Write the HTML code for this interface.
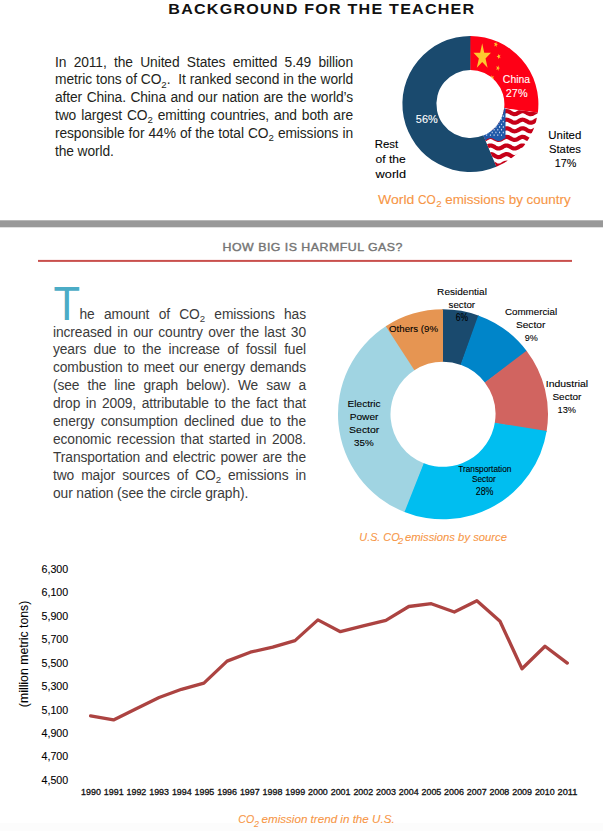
<!DOCTYPE html>
<html><head><meta charset="utf-8"><style>
html,body{margin:0;padding:0;background:#fff;}
body{width:603px;height:831px;position:relative;overflow:hidden;font-family:"Liberation Sans",sans-serif;}
svg{position:absolute;left:0;top:0;}
.ln{position:absolute;white-space:nowrap;text-align:justify;line-height:0;height:0;letter-spacing:-0.1px;}
.ln span.b{display:inline-block;}
sub{font-size:0.7em;vertical-align:baseline;position:relative;top:0.36em;line-height:0;}
</style></head><body>
<svg width="603" height="831" viewBox="0 0 603 831" font-family="Liberation Sans, sans-serif">
<defs>
<clipPath id="cpUS"><path d="M537.86,112.52A68,68 0 0 1 496.42,166.82L483.41,135.41A34,34 0 0 0 504.13,108.26Z"/></clipPath>
<clipPath id="cpCN"><path d="M470.40,36.00A68,68 0 0 1 537.86,112.52L504.13,108.26A34,34 0 0 0 470.40,70.00Z"/></clipPath>
</defs>
<rect x="0" y="823" width="603" height="8" fill="#fcfcfc"/>
<text transform="translate(168.3,14) scale(1.15,1)" x="0" y="0" font-size="14" font-weight="bold" fill="#111" textLength="266" lengthAdjust="spacing">BACKGROUND FOR THE TEACHER</text>
<path d="M496.97,166.59A68,68 0 1 1 470.99,36.00L470.70,70.00A34,34 0 1 0 483.68,135.30Z" fill="#1a4a6e"/>
<path d="M470.40,36.00A68,68 0 0 1 537.79,113.11L504.09,108.56A34,34 0 0 0 470.40,70.00Z" fill="#fe0016"/>
<g clip-path="url(#cpCN)" fill="#fdc82f"><path transform="translate(482.2,56.8) scale(0.68,1)" d="M0.00,-13.50 L3.03,-4.17 L12.84,-4.17 L4.90,1.59 L7.94,10.92 L0.00,5.16 L-7.94,10.92 L-4.90,1.59 L-12.84,-4.17 L-3.03,-4.17Z"/><path transform="translate(495.8,44.4) scale(0.75,1)" d="M-2.22,2.02 L-1.14,0.13 L-2.61,-1.48 L-0.47,-1.04 L0.61,-2.94 L0.85,-0.77 L2.98,-0.33 L1.00,0.57 L1.24,2.73 L-0.23,1.12Z"/><path transform="translate(498.8,56.5) scale(0.75,1)" d="M-3.00,0.05 L-0.94,-0.66 L-0.98,-2.84 L0.33,-1.10 L2.39,-1.81 L1.15,-0.02 L2.46,1.72 L0.37,1.08 L-0.88,2.87 L-0.91,0.69Z"/><path transform="translate(497.9,68.1) scale(0.75,1)" d="M-2.43,-1.75 L-0.36,-1.09 L0.91,-2.86 L0.92,-0.68 L3.00,-0.01 L0.93,0.67 L0.94,2.85 L-0.35,1.09 L-2.42,1.77 L-1.15,0.01Z"/><path transform="translate(492.2,77.8) scale(0.75,1)" d="M-1.29,-2.71 L0.21,-1.13 L2.18,-2.06 L1.14,-0.15 L2.64,1.43 L0.49,1.03 L-0.55,2.95 L-0.83,0.79 L-2.97,0.39 L-1.01,-0.55Z"/></g>
<g clip-path="url(#cpUS)">
<rect x="400" y="90" width="160" height="90" fill="#fff"/>
<polyline points="440.0,86.02 440.5,85.78 441.0,85.59 441.5,85.44 442.0,85.34 442.5,85.30 443.0,85.32 443.5,85.39 444.0,85.52 444.5,85.70 445.0,85.92 445.5,86.17 446.0,86.45 446.5,86.74 447.0,87.03 447.5,87.32 448.0,87.58 448.5,87.82 449.0,88.01 449.5,88.16 450.0,88.26 450.5,88.30 451.0,88.28 451.5,88.21 452.0,88.08 452.5,87.90 453.0,87.68 453.5,87.43 454.0,87.15 454.5,86.86 455.0,86.57 455.5,86.28 456.0,86.02 456.5,85.78 457.0,85.59 457.5,85.44 458.0,85.34 458.5,85.30 459.0,85.32 459.5,85.39 460.0,85.52 460.5,85.70 461.0,85.92 461.5,86.17 462.0,86.45 462.5,86.74 463.0,87.03 463.5,87.32 464.0,87.58 464.5,87.82 465.0,88.01 465.5,88.16 466.0,88.26 466.5,88.30 467.0,88.28 467.5,88.21 468.0,88.08 468.5,87.90 469.0,87.68 469.5,87.43 470.0,87.15 470.5,86.86 471.0,86.57 471.5,86.28 472.0,86.02 472.5,85.78 473.0,85.59 473.5,85.44 474.0,85.34 474.5,85.30 475.0,85.32 475.5,85.39 476.0,85.52 476.5,85.70 477.0,85.92 477.5,86.17 478.0,86.45 478.5,86.74 479.0,87.03 479.5,87.32 480.0,87.58 480.5,87.82 481.0,88.01 481.5,88.16 482.0,88.26 482.5,88.30 483.0,88.28 483.5,88.21 484.0,88.08 484.5,87.90 485.0,87.68 485.5,87.43 486.0,87.15 486.5,86.86 487.0,86.57 487.5,86.28 488.0,86.02 488.5,85.78 489.0,85.59 489.5,85.44 490.0,85.34 490.5,85.30 491.0,85.32 491.5,85.39 492.0,85.52 492.5,85.70 493.0,85.92 493.5,86.17 494.0,86.45 494.5,86.74 495.0,87.03 495.5,87.32 496.0,87.58 496.5,87.82 497.0,88.01 497.5,88.16 498.0,88.26 498.5,88.30 499.0,88.28 499.5,88.21 500.0,88.08 500.5,87.90 501.0,87.68 501.5,87.43 502.0,87.15 502.5,86.86 503.0,86.57 503.5,86.28 504.0,86.02 504.5,85.78 505.0,85.59 505.5,85.44 506.0,85.34 506.5,85.30 507.0,85.32 507.5,85.39 508.0,85.52 508.5,85.70 509.0,85.92 509.5,86.17 510.0,86.45 510.5,86.74 511.0,87.03 511.5,87.32 512.0,87.58 512.5,87.82 513.0,88.01 513.5,88.16 514.0,88.26 514.5,88.30 515.0,88.28 515.5,88.21 516.0,88.08 516.5,87.90 517.0,87.68 517.5,87.43 518.0,87.15 518.5,86.86 519.0,86.57 519.5,86.28 520.0,86.02 520.5,85.78 521.0,85.59 521.5,85.44 522.0,85.34 522.5,85.30 523.0,85.32 523.5,85.39 524.0,85.52 524.5,85.70 525.0,85.92 525.5,86.17 526.0,86.45 526.5,86.74 527.0,87.03 527.5,87.32 528.0,87.58 528.5,87.82 529.0,88.01 529.5,88.16 530.0,88.26 530.5,88.30 531.0,88.28 531.5,88.21 532.0,88.08 532.5,87.90 533.0,87.68 533.5,87.43 534.0,87.15 534.5,86.86 535.0,86.57 535.5,86.28 536.0,86.02 536.5,85.78 537.0,85.59 537.5,85.44 538.0,85.34 538.5,85.30 539.0,85.32 539.5,85.39 540.0,85.52 540.5,85.70 541.0,85.92 541.5,86.17 542.0,86.45 542.5,86.74 543.0,87.03 543.5,87.32 544.0,87.58 544.5,87.82 545.0,88.01 545.5,88.16 546.0,88.26 546.5,88.30 547.0,88.28 547.5,88.21 548.0,88.08 548.5,87.90 549.0,87.68 549.5,87.43 550.0,87.15 550.5,86.86 551.0,86.57 551.5,86.28 552.0,86.02 552.5,85.78 553.0,85.59 553.5,85.44 554.0,85.34 554.5,85.30 555.0,85.32 555.5,85.39 556.0,85.52 556.5,85.70 557.0,85.92 557.5,86.17 558.0,86.45 558.5,86.74 559.0,87.03 559.5,87.32 560.0,87.58" stroke="#c60018" stroke-width="4.2" fill="none"/><polyline points="440.0,94.62 440.5,94.38 441.0,94.19 441.5,94.04 442.0,93.94 442.5,93.90 443.0,93.92 443.5,93.99 444.0,94.12 444.5,94.30 445.0,94.52 445.5,94.77 446.0,95.05 446.5,95.34 447.0,95.63 447.5,95.92 448.0,96.18 448.5,96.42 449.0,96.61 449.5,96.76 450.0,96.86 450.5,96.90 451.0,96.88 451.5,96.81 452.0,96.68 452.5,96.50 453.0,96.28 453.5,96.03 454.0,95.75 454.5,95.46 455.0,95.17 455.5,94.88 456.0,94.62 456.5,94.38 457.0,94.19 457.5,94.04 458.0,93.94 458.5,93.90 459.0,93.92 459.5,93.99 460.0,94.12 460.5,94.30 461.0,94.52 461.5,94.77 462.0,95.05 462.5,95.34 463.0,95.63 463.5,95.92 464.0,96.18 464.5,96.42 465.0,96.61 465.5,96.76 466.0,96.86 466.5,96.90 467.0,96.88 467.5,96.81 468.0,96.68 468.5,96.50 469.0,96.28 469.5,96.03 470.0,95.75 470.5,95.46 471.0,95.17 471.5,94.88 472.0,94.62 472.5,94.38 473.0,94.19 473.5,94.04 474.0,93.94 474.5,93.90 475.0,93.92 475.5,93.99 476.0,94.12 476.5,94.30 477.0,94.52 477.5,94.77 478.0,95.05 478.5,95.34 479.0,95.63 479.5,95.92 480.0,96.18 480.5,96.42 481.0,96.61 481.5,96.76 482.0,96.86 482.5,96.90 483.0,96.88 483.5,96.81 484.0,96.68 484.5,96.50 485.0,96.28 485.5,96.03 486.0,95.75 486.5,95.46 487.0,95.17 487.5,94.88 488.0,94.62 488.5,94.38 489.0,94.19 489.5,94.04 490.0,93.94 490.5,93.90 491.0,93.92 491.5,93.99 492.0,94.12 492.5,94.30 493.0,94.52 493.5,94.77 494.0,95.05 494.5,95.34 495.0,95.63 495.5,95.92 496.0,96.18 496.5,96.42 497.0,96.61 497.5,96.76 498.0,96.86 498.5,96.90 499.0,96.88 499.5,96.81 500.0,96.68 500.5,96.50 501.0,96.28 501.5,96.03 502.0,95.75 502.5,95.46 503.0,95.17 503.5,94.88 504.0,94.62 504.5,94.38 505.0,94.19 505.5,94.04 506.0,93.94 506.5,93.90 507.0,93.92 507.5,93.99 508.0,94.12 508.5,94.30 509.0,94.52 509.5,94.77 510.0,95.05 510.5,95.34 511.0,95.63 511.5,95.92 512.0,96.18 512.5,96.42 513.0,96.61 513.5,96.76 514.0,96.86 514.5,96.90 515.0,96.88 515.5,96.81 516.0,96.68 516.5,96.50 517.0,96.28 517.5,96.03 518.0,95.75 518.5,95.46 519.0,95.17 519.5,94.88 520.0,94.62 520.5,94.38 521.0,94.19 521.5,94.04 522.0,93.94 522.5,93.90 523.0,93.92 523.5,93.99 524.0,94.12 524.5,94.30 525.0,94.52 525.5,94.77 526.0,95.05 526.5,95.34 527.0,95.63 527.5,95.92 528.0,96.18 528.5,96.42 529.0,96.61 529.5,96.76 530.0,96.86 530.5,96.90 531.0,96.88 531.5,96.81 532.0,96.68 532.5,96.50 533.0,96.28 533.5,96.03 534.0,95.75 534.5,95.46 535.0,95.17 535.5,94.88 536.0,94.62 536.5,94.38 537.0,94.19 537.5,94.04 538.0,93.94 538.5,93.90 539.0,93.92 539.5,93.99 540.0,94.12 540.5,94.30 541.0,94.52 541.5,94.77 542.0,95.05 542.5,95.34 543.0,95.63 543.5,95.92 544.0,96.18 544.5,96.42 545.0,96.61 545.5,96.76 546.0,96.86 546.5,96.90 547.0,96.88 547.5,96.81 548.0,96.68 548.5,96.50 549.0,96.28 549.5,96.03 550.0,95.75 550.5,95.46 551.0,95.17 551.5,94.88 552.0,94.62 552.5,94.38 553.0,94.19 553.5,94.04 554.0,93.94 554.5,93.90 555.0,93.92 555.5,93.99 556.0,94.12 556.5,94.30 557.0,94.52 557.5,94.77 558.0,95.05 558.5,95.34 559.0,95.63 559.5,95.92 560.0,96.18" stroke="#c60018" stroke-width="4.2" fill="none"/><polyline points="440.0,103.22 440.5,102.98 441.0,102.79 441.5,102.64 442.0,102.54 442.5,102.50 443.0,102.52 443.5,102.59 444.0,102.72 444.5,102.90 445.0,103.12 445.5,103.37 446.0,103.65 446.5,103.94 447.0,104.23 447.5,104.52 448.0,104.78 448.5,105.02 449.0,105.21 449.5,105.36 450.0,105.46 450.5,105.50 451.0,105.48 451.5,105.41 452.0,105.28 452.5,105.10 453.0,104.88 453.5,104.63 454.0,104.35 454.5,104.06 455.0,103.77 455.5,103.48 456.0,103.22 456.5,102.98 457.0,102.79 457.5,102.64 458.0,102.54 458.5,102.50 459.0,102.52 459.5,102.59 460.0,102.72 460.5,102.90 461.0,103.12 461.5,103.37 462.0,103.65 462.5,103.94 463.0,104.23 463.5,104.52 464.0,104.78 464.5,105.02 465.0,105.21 465.5,105.36 466.0,105.46 466.5,105.50 467.0,105.48 467.5,105.41 468.0,105.28 468.5,105.10 469.0,104.88 469.5,104.63 470.0,104.35 470.5,104.06 471.0,103.77 471.5,103.48 472.0,103.22 472.5,102.98 473.0,102.79 473.5,102.64 474.0,102.54 474.5,102.50 475.0,102.52 475.5,102.59 476.0,102.72 476.5,102.90 477.0,103.12 477.5,103.37 478.0,103.65 478.5,103.94 479.0,104.23 479.5,104.52 480.0,104.78 480.5,105.02 481.0,105.21 481.5,105.36 482.0,105.46 482.5,105.50 483.0,105.48 483.5,105.41 484.0,105.28 484.5,105.10 485.0,104.88 485.5,104.63 486.0,104.35 486.5,104.06 487.0,103.77 487.5,103.48 488.0,103.22 488.5,102.98 489.0,102.79 489.5,102.64 490.0,102.54 490.5,102.50 491.0,102.52 491.5,102.59 492.0,102.72 492.5,102.90 493.0,103.12 493.5,103.37 494.0,103.65 494.5,103.94 495.0,104.23 495.5,104.52 496.0,104.78 496.5,105.02 497.0,105.21 497.5,105.36 498.0,105.46 498.5,105.50 499.0,105.48 499.5,105.41 500.0,105.28 500.5,105.10 501.0,104.88 501.5,104.63 502.0,104.35 502.5,104.06 503.0,103.77 503.5,103.48 504.0,103.22 504.5,102.98 505.0,102.79 505.5,102.64 506.0,102.54 506.5,102.50 507.0,102.52 507.5,102.59 508.0,102.72 508.5,102.90 509.0,103.12 509.5,103.37 510.0,103.65 510.5,103.94 511.0,104.23 511.5,104.52 512.0,104.78 512.5,105.02 513.0,105.21 513.5,105.36 514.0,105.46 514.5,105.50 515.0,105.48 515.5,105.41 516.0,105.28 516.5,105.10 517.0,104.88 517.5,104.63 518.0,104.35 518.5,104.06 519.0,103.77 519.5,103.48 520.0,103.22 520.5,102.98 521.0,102.79 521.5,102.64 522.0,102.54 522.5,102.50 523.0,102.52 523.5,102.59 524.0,102.72 524.5,102.90 525.0,103.12 525.5,103.37 526.0,103.65 526.5,103.94 527.0,104.23 527.5,104.52 528.0,104.78 528.5,105.02 529.0,105.21 529.5,105.36 530.0,105.46 530.5,105.50 531.0,105.48 531.5,105.41 532.0,105.28 532.5,105.10 533.0,104.88 533.5,104.63 534.0,104.35 534.5,104.06 535.0,103.77 535.5,103.48 536.0,103.22 536.5,102.98 537.0,102.79 537.5,102.64 538.0,102.54 538.5,102.50 539.0,102.52 539.5,102.59 540.0,102.72 540.5,102.90 541.0,103.12 541.5,103.37 542.0,103.65 542.5,103.94 543.0,104.23 543.5,104.52 544.0,104.78 544.5,105.02 545.0,105.21 545.5,105.36 546.0,105.46 546.5,105.50 547.0,105.48 547.5,105.41 548.0,105.28 548.5,105.10 549.0,104.88 549.5,104.63 550.0,104.35 550.5,104.06 551.0,103.77 551.5,103.48 552.0,103.22 552.5,102.98 553.0,102.79 553.5,102.64 554.0,102.54 554.5,102.50 555.0,102.52 555.5,102.59 556.0,102.72 556.5,102.90 557.0,103.12 557.5,103.37 558.0,103.65 558.5,103.94 559.0,104.23 559.5,104.52 560.0,104.78" stroke="#c60018" stroke-width="4.2" fill="none"/><polyline points="440.0,111.82 440.5,111.58 441.0,111.39 441.5,111.24 442.0,111.14 442.5,111.10 443.0,111.12 443.5,111.19 444.0,111.32 444.5,111.50 445.0,111.72 445.5,111.97 446.0,112.25 446.5,112.54 447.0,112.83 447.5,113.12 448.0,113.38 448.5,113.62 449.0,113.81 449.5,113.96 450.0,114.06 450.5,114.10 451.0,114.08 451.5,114.01 452.0,113.88 452.5,113.70 453.0,113.48 453.5,113.23 454.0,112.95 454.5,112.66 455.0,112.37 455.5,112.08 456.0,111.82 456.5,111.58 457.0,111.39 457.5,111.24 458.0,111.14 458.5,111.10 459.0,111.12 459.5,111.19 460.0,111.32 460.5,111.50 461.0,111.72 461.5,111.97 462.0,112.25 462.5,112.54 463.0,112.83 463.5,113.12 464.0,113.38 464.5,113.62 465.0,113.81 465.5,113.96 466.0,114.06 466.5,114.10 467.0,114.08 467.5,114.01 468.0,113.88 468.5,113.70 469.0,113.48 469.5,113.23 470.0,112.95 470.5,112.66 471.0,112.37 471.5,112.08 472.0,111.82 472.5,111.58 473.0,111.39 473.5,111.24 474.0,111.14 474.5,111.10 475.0,111.12 475.5,111.19 476.0,111.32 476.5,111.50 477.0,111.72 477.5,111.97 478.0,112.25 478.5,112.54 479.0,112.83 479.5,113.12 480.0,113.38 480.5,113.62 481.0,113.81 481.5,113.96 482.0,114.06 482.5,114.10 483.0,114.08 483.5,114.01 484.0,113.88 484.5,113.70 485.0,113.48 485.5,113.23 486.0,112.95 486.5,112.66 487.0,112.37 487.5,112.08 488.0,111.82 488.5,111.58 489.0,111.39 489.5,111.24 490.0,111.14 490.5,111.10 491.0,111.12 491.5,111.19 492.0,111.32 492.5,111.50 493.0,111.72 493.5,111.97 494.0,112.25 494.5,112.54 495.0,112.83 495.5,113.12 496.0,113.38 496.5,113.62 497.0,113.81 497.5,113.96 498.0,114.06 498.5,114.10 499.0,114.08 499.5,114.01 500.0,113.88 500.5,113.70 501.0,113.48 501.5,113.23 502.0,112.95 502.5,112.66 503.0,112.37 503.5,112.08 504.0,111.82 504.5,111.58 505.0,111.39 505.5,111.24 506.0,111.14 506.5,111.10 507.0,111.12 507.5,111.19 508.0,111.32 508.5,111.50 509.0,111.72 509.5,111.97 510.0,112.25 510.5,112.54 511.0,112.83 511.5,113.12 512.0,113.38 512.5,113.62 513.0,113.81 513.5,113.96 514.0,114.06 514.5,114.10 515.0,114.08 515.5,114.01 516.0,113.88 516.5,113.70 517.0,113.48 517.5,113.23 518.0,112.95 518.5,112.66 519.0,112.37 519.5,112.08 520.0,111.82 520.5,111.58 521.0,111.39 521.5,111.24 522.0,111.14 522.5,111.10 523.0,111.12 523.5,111.19 524.0,111.32 524.5,111.50 525.0,111.72 525.5,111.97 526.0,112.25 526.5,112.54 527.0,112.83 527.5,113.12 528.0,113.38 528.5,113.62 529.0,113.81 529.5,113.96 530.0,114.06 530.5,114.10 531.0,114.08 531.5,114.01 532.0,113.88 532.5,113.70 533.0,113.48 533.5,113.23 534.0,112.95 534.5,112.66 535.0,112.37 535.5,112.08 536.0,111.82 536.5,111.58 537.0,111.39 537.5,111.24 538.0,111.14 538.5,111.10 539.0,111.12 539.5,111.19 540.0,111.32 540.5,111.50 541.0,111.72 541.5,111.97 542.0,112.25 542.5,112.54 543.0,112.83 543.5,113.12 544.0,113.38 544.5,113.62 545.0,113.81 545.5,113.96 546.0,114.06 546.5,114.10 547.0,114.08 547.5,114.01 548.0,113.88 548.5,113.70 549.0,113.48 549.5,113.23 550.0,112.95 550.5,112.66 551.0,112.37 551.5,112.08 552.0,111.82 552.5,111.58 553.0,111.39 553.5,111.24 554.0,111.14 554.5,111.10 555.0,111.12 555.5,111.19 556.0,111.32 556.5,111.50 557.0,111.72 557.5,111.97 558.0,112.25 558.5,112.54 559.0,112.83 559.5,113.12 560.0,113.38" stroke="#c60018" stroke-width="4.2" fill="none"/><polyline points="440.0,120.42 440.5,120.18 441.0,119.99 441.5,119.84 442.0,119.74 442.5,119.70 443.0,119.72 443.5,119.79 444.0,119.92 444.5,120.10 445.0,120.32 445.5,120.57 446.0,120.85 446.5,121.14 447.0,121.43 447.5,121.72 448.0,121.98 448.5,122.22 449.0,122.41 449.5,122.56 450.0,122.66 450.5,122.70 451.0,122.68 451.5,122.61 452.0,122.48 452.5,122.30 453.0,122.08 453.5,121.83 454.0,121.55 454.5,121.26 455.0,120.97 455.5,120.68 456.0,120.42 456.5,120.18 457.0,119.99 457.5,119.84 458.0,119.74 458.5,119.70 459.0,119.72 459.5,119.79 460.0,119.92 460.5,120.10 461.0,120.32 461.5,120.57 462.0,120.85 462.5,121.14 463.0,121.43 463.5,121.72 464.0,121.98 464.5,122.22 465.0,122.41 465.5,122.56 466.0,122.66 466.5,122.70 467.0,122.68 467.5,122.61 468.0,122.48 468.5,122.30 469.0,122.08 469.5,121.83 470.0,121.55 470.5,121.26 471.0,120.97 471.5,120.68 472.0,120.42 472.5,120.18 473.0,119.99 473.5,119.84 474.0,119.74 474.5,119.70 475.0,119.72 475.5,119.79 476.0,119.92 476.5,120.10 477.0,120.32 477.5,120.57 478.0,120.85 478.5,121.14 479.0,121.43 479.5,121.72 480.0,121.98 480.5,122.22 481.0,122.41 481.5,122.56 482.0,122.66 482.5,122.70 483.0,122.68 483.5,122.61 484.0,122.48 484.5,122.30 485.0,122.08 485.5,121.83 486.0,121.55 486.5,121.26 487.0,120.97 487.5,120.68 488.0,120.42 488.5,120.18 489.0,119.99 489.5,119.84 490.0,119.74 490.5,119.70 491.0,119.72 491.5,119.79 492.0,119.92 492.5,120.10 493.0,120.32 493.5,120.57 494.0,120.85 494.5,121.14 495.0,121.43 495.5,121.72 496.0,121.98 496.5,122.22 497.0,122.41 497.5,122.56 498.0,122.66 498.5,122.70 499.0,122.68 499.5,122.61 500.0,122.48 500.5,122.30 501.0,122.08 501.5,121.83 502.0,121.55 502.5,121.26 503.0,120.97 503.5,120.68 504.0,120.42 504.5,120.18 505.0,119.99 505.5,119.84 506.0,119.74 506.5,119.70 507.0,119.72 507.5,119.79 508.0,119.92 508.5,120.10 509.0,120.32 509.5,120.57 510.0,120.85 510.5,121.14 511.0,121.43 511.5,121.72 512.0,121.98 512.5,122.22 513.0,122.41 513.5,122.56 514.0,122.66 514.5,122.70 515.0,122.68 515.5,122.61 516.0,122.48 516.5,122.30 517.0,122.08 517.5,121.83 518.0,121.55 518.5,121.26 519.0,120.97 519.5,120.68 520.0,120.42 520.5,120.18 521.0,119.99 521.5,119.84 522.0,119.74 522.5,119.70 523.0,119.72 523.5,119.79 524.0,119.92 524.5,120.10 525.0,120.32 525.5,120.57 526.0,120.85 526.5,121.14 527.0,121.43 527.5,121.72 528.0,121.98 528.5,122.22 529.0,122.41 529.5,122.56 530.0,122.66 530.5,122.70 531.0,122.68 531.5,122.61 532.0,122.48 532.5,122.30 533.0,122.08 533.5,121.83 534.0,121.55 534.5,121.26 535.0,120.97 535.5,120.68 536.0,120.42 536.5,120.18 537.0,119.99 537.5,119.84 538.0,119.74 538.5,119.70 539.0,119.72 539.5,119.79 540.0,119.92 540.5,120.10 541.0,120.32 541.5,120.57 542.0,120.85 542.5,121.14 543.0,121.43 543.5,121.72 544.0,121.98 544.5,122.22 545.0,122.41 545.5,122.56 546.0,122.66 546.5,122.70 547.0,122.68 547.5,122.61 548.0,122.48 548.5,122.30 549.0,122.08 549.5,121.83 550.0,121.55 550.5,121.26 551.0,120.97 551.5,120.68 552.0,120.42 552.5,120.18 553.0,119.99 553.5,119.84 554.0,119.74 554.5,119.70 555.0,119.72 555.5,119.79 556.0,119.92 556.5,120.10 557.0,120.32 557.5,120.57 558.0,120.85 558.5,121.14 559.0,121.43 559.5,121.72 560.0,121.98" stroke="#c60018" stroke-width="4.2" fill="none"/><polyline points="440.0,129.02 440.5,128.78 441.0,128.59 441.5,128.44 442.0,128.34 442.5,128.30 443.0,128.32 443.5,128.39 444.0,128.52 444.5,128.70 445.0,128.92 445.5,129.17 446.0,129.45 446.5,129.74 447.0,130.03 447.5,130.32 448.0,130.58 448.5,130.82 449.0,131.01 449.5,131.16 450.0,131.26 450.5,131.30 451.0,131.28 451.5,131.21 452.0,131.08 452.5,130.90 453.0,130.68 453.5,130.43 454.0,130.15 454.5,129.86 455.0,129.57 455.5,129.28 456.0,129.02 456.5,128.78 457.0,128.59 457.5,128.44 458.0,128.34 458.5,128.30 459.0,128.32 459.5,128.39 460.0,128.52 460.5,128.70 461.0,128.92 461.5,129.17 462.0,129.45 462.5,129.74 463.0,130.03 463.5,130.32 464.0,130.58 464.5,130.82 465.0,131.01 465.5,131.16 466.0,131.26 466.5,131.30 467.0,131.28 467.5,131.21 468.0,131.08 468.5,130.90 469.0,130.68 469.5,130.43 470.0,130.15 470.5,129.86 471.0,129.57 471.5,129.28 472.0,129.02 472.5,128.78 473.0,128.59 473.5,128.44 474.0,128.34 474.5,128.30 475.0,128.32 475.5,128.39 476.0,128.52 476.5,128.70 477.0,128.92 477.5,129.17 478.0,129.45 478.5,129.74 479.0,130.03 479.5,130.32 480.0,130.58 480.5,130.82 481.0,131.01 481.5,131.16 482.0,131.26 482.5,131.30 483.0,131.28 483.5,131.21 484.0,131.08 484.5,130.90 485.0,130.68 485.5,130.43 486.0,130.15 486.5,129.86 487.0,129.57 487.5,129.28 488.0,129.02 488.5,128.78 489.0,128.59 489.5,128.44 490.0,128.34 490.5,128.30 491.0,128.32 491.5,128.39 492.0,128.52 492.5,128.70 493.0,128.92 493.5,129.17 494.0,129.45 494.5,129.74 495.0,130.03 495.5,130.32 496.0,130.58 496.5,130.82 497.0,131.01 497.5,131.16 498.0,131.26 498.5,131.30 499.0,131.28 499.5,131.21 500.0,131.08 500.5,130.90 501.0,130.68 501.5,130.43 502.0,130.15 502.5,129.86 503.0,129.57 503.5,129.28 504.0,129.02 504.5,128.78 505.0,128.59 505.5,128.44 506.0,128.34 506.5,128.30 507.0,128.32 507.5,128.39 508.0,128.52 508.5,128.70 509.0,128.92 509.5,129.17 510.0,129.45 510.5,129.74 511.0,130.03 511.5,130.32 512.0,130.58 512.5,130.82 513.0,131.01 513.5,131.16 514.0,131.26 514.5,131.30 515.0,131.28 515.5,131.21 516.0,131.08 516.5,130.90 517.0,130.68 517.5,130.43 518.0,130.15 518.5,129.86 519.0,129.57 519.5,129.28 520.0,129.02 520.5,128.78 521.0,128.59 521.5,128.44 522.0,128.34 522.5,128.30 523.0,128.32 523.5,128.39 524.0,128.52 524.5,128.70 525.0,128.92 525.5,129.17 526.0,129.45 526.5,129.74 527.0,130.03 527.5,130.32 528.0,130.58 528.5,130.82 529.0,131.01 529.5,131.16 530.0,131.26 530.5,131.30 531.0,131.28 531.5,131.21 532.0,131.08 532.5,130.90 533.0,130.68 533.5,130.43 534.0,130.15 534.5,129.86 535.0,129.57 535.5,129.28 536.0,129.02 536.5,128.78 537.0,128.59 537.5,128.44 538.0,128.34 538.5,128.30 539.0,128.32 539.5,128.39 540.0,128.52 540.5,128.70 541.0,128.92 541.5,129.17 542.0,129.45 542.5,129.74 543.0,130.03 543.5,130.32 544.0,130.58 544.5,130.82 545.0,131.01 545.5,131.16 546.0,131.26 546.5,131.30 547.0,131.28 547.5,131.21 548.0,131.08 548.5,130.90 549.0,130.68 549.5,130.43 550.0,130.15 550.5,129.86 551.0,129.57 551.5,129.28 552.0,129.02 552.5,128.78 553.0,128.59 553.5,128.44 554.0,128.34 554.5,128.30 555.0,128.32 555.5,128.39 556.0,128.52 556.5,128.70 557.0,128.92 557.5,129.17 558.0,129.45 558.5,129.74 559.0,130.03 559.5,130.32 560.0,130.58" stroke="#c60018" stroke-width="4.2" fill="none"/><polyline points="440.0,137.62 440.5,137.38 441.0,137.19 441.5,137.04 442.0,136.94 442.5,136.90 443.0,136.92 443.5,136.99 444.0,137.12 444.5,137.30 445.0,137.52 445.5,137.77 446.0,138.05 446.5,138.34 447.0,138.63 447.5,138.92 448.0,139.18 448.5,139.42 449.0,139.61 449.5,139.76 450.0,139.86 450.5,139.90 451.0,139.88 451.5,139.81 452.0,139.68 452.5,139.50 453.0,139.28 453.5,139.03 454.0,138.75 454.5,138.46 455.0,138.17 455.5,137.88 456.0,137.62 456.5,137.38 457.0,137.19 457.5,137.04 458.0,136.94 458.5,136.90 459.0,136.92 459.5,136.99 460.0,137.12 460.5,137.30 461.0,137.52 461.5,137.77 462.0,138.05 462.5,138.34 463.0,138.63 463.5,138.92 464.0,139.18 464.5,139.42 465.0,139.61 465.5,139.76 466.0,139.86 466.5,139.90 467.0,139.88 467.5,139.81 468.0,139.68 468.5,139.50 469.0,139.28 469.5,139.03 470.0,138.75 470.5,138.46 471.0,138.17 471.5,137.88 472.0,137.62 472.5,137.38 473.0,137.19 473.5,137.04 474.0,136.94 474.5,136.90 475.0,136.92 475.5,136.99 476.0,137.12 476.5,137.30 477.0,137.52 477.5,137.77 478.0,138.05 478.5,138.34 479.0,138.63 479.5,138.92 480.0,139.18 480.5,139.42 481.0,139.61 481.5,139.76 482.0,139.86 482.5,139.90 483.0,139.88 483.5,139.81 484.0,139.68 484.5,139.50 485.0,139.28 485.5,139.03 486.0,138.75 486.5,138.46 487.0,138.17 487.5,137.88 488.0,137.62 488.5,137.38 489.0,137.19 489.5,137.04 490.0,136.94 490.5,136.90 491.0,136.92 491.5,136.99 492.0,137.12 492.5,137.30 493.0,137.52 493.5,137.77 494.0,138.05 494.5,138.34 495.0,138.63 495.5,138.92 496.0,139.18 496.5,139.42 497.0,139.61 497.5,139.76 498.0,139.86 498.5,139.90 499.0,139.88 499.5,139.81 500.0,139.68 500.5,139.50 501.0,139.28 501.5,139.03 502.0,138.75 502.5,138.46 503.0,138.17 503.5,137.88 504.0,137.62 504.5,137.38 505.0,137.19 505.5,137.04 506.0,136.94 506.5,136.90 507.0,136.92 507.5,136.99 508.0,137.12 508.5,137.30 509.0,137.52 509.5,137.77 510.0,138.05 510.5,138.34 511.0,138.63 511.5,138.92 512.0,139.18 512.5,139.42 513.0,139.61 513.5,139.76 514.0,139.86 514.5,139.90 515.0,139.88 515.5,139.81 516.0,139.68 516.5,139.50 517.0,139.28 517.5,139.03 518.0,138.75 518.5,138.46 519.0,138.17 519.5,137.88 520.0,137.62 520.5,137.38 521.0,137.19 521.5,137.04 522.0,136.94 522.5,136.90 523.0,136.92 523.5,136.99 524.0,137.12 524.5,137.30 525.0,137.52 525.5,137.77 526.0,138.05 526.5,138.34 527.0,138.63 527.5,138.92 528.0,139.18 528.5,139.42 529.0,139.61 529.5,139.76 530.0,139.86 530.5,139.90 531.0,139.88 531.5,139.81 532.0,139.68 532.5,139.50 533.0,139.28 533.5,139.03 534.0,138.75 534.5,138.46 535.0,138.17 535.5,137.88 536.0,137.62 536.5,137.38 537.0,137.19 537.5,137.04 538.0,136.94 538.5,136.90 539.0,136.92 539.5,136.99 540.0,137.12 540.5,137.30 541.0,137.52 541.5,137.77 542.0,138.05 542.5,138.34 543.0,138.63 543.5,138.92 544.0,139.18 544.5,139.42 545.0,139.61 545.5,139.76 546.0,139.86 546.5,139.90 547.0,139.88 547.5,139.81 548.0,139.68 548.5,139.50 549.0,139.28 549.5,139.03 550.0,138.75 550.5,138.46 551.0,138.17 551.5,137.88 552.0,137.62 552.5,137.38 553.0,137.19 553.5,137.04 554.0,136.94 554.5,136.90 555.0,136.92 555.5,136.99 556.0,137.12 556.5,137.30 557.0,137.52 557.5,137.77 558.0,138.05 558.5,138.34 559.0,138.63 559.5,138.92 560.0,139.18" stroke="#c60018" stroke-width="4.2" fill="none"/><polyline points="440.0,146.22 440.5,145.98 441.0,145.79 441.5,145.64 442.0,145.54 442.5,145.50 443.0,145.52 443.5,145.59 444.0,145.72 444.5,145.90 445.0,146.12 445.5,146.37 446.0,146.65 446.5,146.94 447.0,147.23 447.5,147.52 448.0,147.78 448.5,148.02 449.0,148.21 449.5,148.36 450.0,148.46 450.5,148.50 451.0,148.48 451.5,148.41 452.0,148.28 452.5,148.10 453.0,147.88 453.5,147.63 454.0,147.35 454.5,147.06 455.0,146.77 455.5,146.48 456.0,146.22 456.5,145.98 457.0,145.79 457.5,145.64 458.0,145.54 458.5,145.50 459.0,145.52 459.5,145.59 460.0,145.72 460.5,145.90 461.0,146.12 461.5,146.37 462.0,146.65 462.5,146.94 463.0,147.23 463.5,147.52 464.0,147.78 464.5,148.02 465.0,148.21 465.5,148.36 466.0,148.46 466.5,148.50 467.0,148.48 467.5,148.41 468.0,148.28 468.5,148.10 469.0,147.88 469.5,147.63 470.0,147.35 470.5,147.06 471.0,146.77 471.5,146.48 472.0,146.22 472.5,145.98 473.0,145.79 473.5,145.64 474.0,145.54 474.5,145.50 475.0,145.52 475.5,145.59 476.0,145.72 476.5,145.90 477.0,146.12 477.5,146.37 478.0,146.65 478.5,146.94 479.0,147.23 479.5,147.52 480.0,147.78 480.5,148.02 481.0,148.21 481.5,148.36 482.0,148.46 482.5,148.50 483.0,148.48 483.5,148.41 484.0,148.28 484.5,148.10 485.0,147.88 485.5,147.63 486.0,147.35 486.5,147.06 487.0,146.77 487.5,146.48 488.0,146.22 488.5,145.98 489.0,145.79 489.5,145.64 490.0,145.54 490.5,145.50 491.0,145.52 491.5,145.59 492.0,145.72 492.5,145.90 493.0,146.12 493.5,146.37 494.0,146.65 494.5,146.94 495.0,147.23 495.5,147.52 496.0,147.78 496.5,148.02 497.0,148.21 497.5,148.36 498.0,148.46 498.5,148.50 499.0,148.48 499.5,148.41 500.0,148.28 500.5,148.10 501.0,147.88 501.5,147.63 502.0,147.35 502.5,147.06 503.0,146.77 503.5,146.48 504.0,146.22 504.5,145.98 505.0,145.79 505.5,145.64 506.0,145.54 506.5,145.50 507.0,145.52 507.5,145.59 508.0,145.72 508.5,145.90 509.0,146.12 509.5,146.37 510.0,146.65 510.5,146.94 511.0,147.23 511.5,147.52 512.0,147.78 512.5,148.02 513.0,148.21 513.5,148.36 514.0,148.46 514.5,148.50 515.0,148.48 515.5,148.41 516.0,148.28 516.5,148.10 517.0,147.88 517.5,147.63 518.0,147.35 518.5,147.06 519.0,146.77 519.5,146.48 520.0,146.22 520.5,145.98 521.0,145.79 521.5,145.64 522.0,145.54 522.5,145.50 523.0,145.52 523.5,145.59 524.0,145.72 524.5,145.90 525.0,146.12 525.5,146.37 526.0,146.65 526.5,146.94 527.0,147.23 527.5,147.52 528.0,147.78 528.5,148.02 529.0,148.21 529.5,148.36 530.0,148.46 530.5,148.50 531.0,148.48 531.5,148.41 532.0,148.28 532.5,148.10 533.0,147.88 533.5,147.63 534.0,147.35 534.5,147.06 535.0,146.77 535.5,146.48 536.0,146.22 536.5,145.98 537.0,145.79 537.5,145.64 538.0,145.54 538.5,145.50 539.0,145.52 539.5,145.59 540.0,145.72 540.5,145.90 541.0,146.12 541.5,146.37 542.0,146.65 542.5,146.94 543.0,147.23 543.5,147.52 544.0,147.78 544.5,148.02 545.0,148.21 545.5,148.36 546.0,148.46 546.5,148.50 547.0,148.48 547.5,148.41 548.0,148.28 548.5,148.10 549.0,147.88 549.5,147.63 550.0,147.35 550.5,147.06 551.0,146.77 551.5,146.48 552.0,146.22 552.5,145.98 553.0,145.79 553.5,145.64 554.0,145.54 554.5,145.50 555.0,145.52 555.5,145.59 556.0,145.72 556.5,145.90 557.0,146.12 557.5,146.37 558.0,146.65 558.5,146.94 559.0,147.23 559.5,147.52 560.0,147.78" stroke="#c60018" stroke-width="4.2" fill="none"/><polyline points="440.0,154.82 440.5,154.58 441.0,154.39 441.5,154.24 442.0,154.14 442.5,154.10 443.0,154.12 443.5,154.19 444.0,154.32 444.5,154.50 445.0,154.72 445.5,154.97 446.0,155.25 446.5,155.54 447.0,155.83 447.5,156.12 448.0,156.38 448.5,156.62 449.0,156.81 449.5,156.96 450.0,157.06 450.5,157.10 451.0,157.08 451.5,157.01 452.0,156.88 452.5,156.70 453.0,156.48 453.5,156.23 454.0,155.95 454.5,155.66 455.0,155.37 455.5,155.08 456.0,154.82 456.5,154.58 457.0,154.39 457.5,154.24 458.0,154.14 458.5,154.10 459.0,154.12 459.5,154.19 460.0,154.32 460.5,154.50 461.0,154.72 461.5,154.97 462.0,155.25 462.5,155.54 463.0,155.83 463.5,156.12 464.0,156.38 464.5,156.62 465.0,156.81 465.5,156.96 466.0,157.06 466.5,157.10 467.0,157.08 467.5,157.01 468.0,156.88 468.5,156.70 469.0,156.48 469.5,156.23 470.0,155.95 470.5,155.66 471.0,155.37 471.5,155.08 472.0,154.82 472.5,154.58 473.0,154.39 473.5,154.24 474.0,154.14 474.5,154.10 475.0,154.12 475.5,154.19 476.0,154.32 476.5,154.50 477.0,154.72 477.5,154.97 478.0,155.25 478.5,155.54 479.0,155.83 479.5,156.12 480.0,156.38 480.5,156.62 481.0,156.81 481.5,156.96 482.0,157.06 482.5,157.10 483.0,157.08 483.5,157.01 484.0,156.88 484.5,156.70 485.0,156.48 485.5,156.23 486.0,155.95 486.5,155.66 487.0,155.37 487.5,155.08 488.0,154.82 488.5,154.58 489.0,154.39 489.5,154.24 490.0,154.14 490.5,154.10 491.0,154.12 491.5,154.19 492.0,154.32 492.5,154.50 493.0,154.72 493.5,154.97 494.0,155.25 494.5,155.54 495.0,155.83 495.5,156.12 496.0,156.38 496.5,156.62 497.0,156.81 497.5,156.96 498.0,157.06 498.5,157.10 499.0,157.08 499.5,157.01 500.0,156.88 500.5,156.70 501.0,156.48 501.5,156.23 502.0,155.95 502.5,155.66 503.0,155.37 503.5,155.08 504.0,154.82 504.5,154.58 505.0,154.39 505.5,154.24 506.0,154.14 506.5,154.10 507.0,154.12 507.5,154.19 508.0,154.32 508.5,154.50 509.0,154.72 509.5,154.97 510.0,155.25 510.5,155.54 511.0,155.83 511.5,156.12 512.0,156.38 512.5,156.62 513.0,156.81 513.5,156.96 514.0,157.06 514.5,157.10 515.0,157.08 515.5,157.01 516.0,156.88 516.5,156.70 517.0,156.48 517.5,156.23 518.0,155.95 518.5,155.66 519.0,155.37 519.5,155.08 520.0,154.82 520.5,154.58 521.0,154.39 521.5,154.24 522.0,154.14 522.5,154.10 523.0,154.12 523.5,154.19 524.0,154.32 524.5,154.50 525.0,154.72 525.5,154.97 526.0,155.25 526.5,155.54 527.0,155.83 527.5,156.12 528.0,156.38 528.5,156.62 529.0,156.81 529.5,156.96 530.0,157.06 530.5,157.10 531.0,157.08 531.5,157.01 532.0,156.88 532.5,156.70 533.0,156.48 533.5,156.23 534.0,155.95 534.5,155.66 535.0,155.37 535.5,155.08 536.0,154.82 536.5,154.58 537.0,154.39 537.5,154.24 538.0,154.14 538.5,154.10 539.0,154.12 539.5,154.19 540.0,154.32 540.5,154.50 541.0,154.72 541.5,154.97 542.0,155.25 542.5,155.54 543.0,155.83 543.5,156.12 544.0,156.38 544.5,156.62 545.0,156.81 545.5,156.96 546.0,157.06 546.5,157.10 547.0,157.08 547.5,157.01 548.0,156.88 548.5,156.70 549.0,156.48 549.5,156.23 550.0,155.95 550.5,155.66 551.0,155.37 551.5,155.08 552.0,154.82 552.5,154.58 553.0,154.39 553.5,154.24 554.0,154.14 554.5,154.10 555.0,154.12 555.5,154.19 556.0,154.32 556.5,154.50 557.0,154.72 557.5,154.97 558.0,155.25 558.5,155.54 559.0,155.83 559.5,156.12 560.0,156.38" stroke="#c60018" stroke-width="4.2" fill="none"/><polyline points="440.0,163.42 440.5,163.18 441.0,162.99 441.5,162.84 442.0,162.74 442.5,162.70 443.0,162.72 443.5,162.79 444.0,162.92 444.5,163.10 445.0,163.32 445.5,163.57 446.0,163.85 446.5,164.14 447.0,164.43 447.5,164.72 448.0,164.98 448.5,165.22 449.0,165.41 449.5,165.56 450.0,165.66 450.5,165.70 451.0,165.68 451.5,165.61 452.0,165.48 452.5,165.30 453.0,165.08 453.5,164.83 454.0,164.55 454.5,164.26 455.0,163.97 455.5,163.68 456.0,163.42 456.5,163.18 457.0,162.99 457.5,162.84 458.0,162.74 458.5,162.70 459.0,162.72 459.5,162.79 460.0,162.92 460.5,163.10 461.0,163.32 461.5,163.57 462.0,163.85 462.5,164.14 463.0,164.43 463.5,164.72 464.0,164.98 464.5,165.22 465.0,165.41 465.5,165.56 466.0,165.66 466.5,165.70 467.0,165.68 467.5,165.61 468.0,165.48 468.5,165.30 469.0,165.08 469.5,164.83 470.0,164.55 470.5,164.26 471.0,163.97 471.5,163.68 472.0,163.42 472.5,163.18 473.0,162.99 473.5,162.84 474.0,162.74 474.5,162.70 475.0,162.72 475.5,162.79 476.0,162.92 476.5,163.10 477.0,163.32 477.5,163.57 478.0,163.85 478.5,164.14 479.0,164.43 479.5,164.72 480.0,164.98 480.5,165.22 481.0,165.41 481.5,165.56 482.0,165.66 482.5,165.70 483.0,165.68 483.5,165.61 484.0,165.48 484.5,165.30 485.0,165.08 485.5,164.83 486.0,164.55 486.5,164.26 487.0,163.97 487.5,163.68 488.0,163.42 488.5,163.18 489.0,162.99 489.5,162.84 490.0,162.74 490.5,162.70 491.0,162.72 491.5,162.79 492.0,162.92 492.5,163.10 493.0,163.32 493.5,163.57 494.0,163.85 494.5,164.14 495.0,164.43 495.5,164.72 496.0,164.98 496.5,165.22 497.0,165.41 497.5,165.56 498.0,165.66 498.5,165.70 499.0,165.68 499.5,165.61 500.0,165.48 500.5,165.30 501.0,165.08 501.5,164.83 502.0,164.55 502.5,164.26 503.0,163.97 503.5,163.68 504.0,163.42 504.5,163.18 505.0,162.99 505.5,162.84 506.0,162.74 506.5,162.70 507.0,162.72 507.5,162.79 508.0,162.92 508.5,163.10 509.0,163.32 509.5,163.57 510.0,163.85 510.5,164.14 511.0,164.43 511.5,164.72 512.0,164.98 512.5,165.22 513.0,165.41 513.5,165.56 514.0,165.66 514.5,165.70 515.0,165.68 515.5,165.61 516.0,165.48 516.5,165.30 517.0,165.08 517.5,164.83 518.0,164.55 518.5,164.26 519.0,163.97 519.5,163.68 520.0,163.42 520.5,163.18 521.0,162.99 521.5,162.84 522.0,162.74 522.5,162.70 523.0,162.72 523.5,162.79 524.0,162.92 524.5,163.10 525.0,163.32 525.5,163.57 526.0,163.85 526.5,164.14 527.0,164.43 527.5,164.72 528.0,164.98 528.5,165.22 529.0,165.41 529.5,165.56 530.0,165.66 530.5,165.70 531.0,165.68 531.5,165.61 532.0,165.48 532.5,165.30 533.0,165.08 533.5,164.83 534.0,164.55 534.5,164.26 535.0,163.97 535.5,163.68 536.0,163.42 536.5,163.18 537.0,162.99 537.5,162.84 538.0,162.74 538.5,162.70 539.0,162.72 539.5,162.79 540.0,162.92 540.5,163.10 541.0,163.32 541.5,163.57 542.0,163.85 542.5,164.14 543.0,164.43 543.5,164.72 544.0,164.98 544.5,165.22 545.0,165.41 545.5,165.56 546.0,165.66 546.5,165.70 547.0,165.68 547.5,165.61 548.0,165.48 548.5,165.30 549.0,165.08 549.5,164.83 550.0,164.55 550.5,164.26 551.0,163.97 551.5,163.68 552.0,163.42 552.5,163.18 553.0,162.99 553.5,162.84 554.0,162.74 554.5,162.70 555.0,162.72 555.5,162.79 556.0,162.92 556.5,163.10 557.0,163.32 557.5,163.57 558.0,163.85 558.5,164.14 559.0,164.43 559.5,164.72 560.0,164.98" stroke="#c60018" stroke-width="4.2" fill="none"/><polyline points="440.0,172.02 440.5,171.78 441.0,171.59 441.5,171.44 442.0,171.34 442.5,171.30 443.0,171.32 443.5,171.39 444.0,171.52 444.5,171.70 445.0,171.92 445.5,172.17 446.0,172.45 446.5,172.74 447.0,173.03 447.5,173.32 448.0,173.58 448.5,173.82 449.0,174.01 449.5,174.16 450.0,174.26 450.5,174.30 451.0,174.28 451.5,174.21 452.0,174.08 452.5,173.90 453.0,173.68 453.5,173.43 454.0,173.15 454.5,172.86 455.0,172.57 455.5,172.28 456.0,172.02 456.5,171.78 457.0,171.59 457.5,171.44 458.0,171.34 458.5,171.30 459.0,171.32 459.5,171.39 460.0,171.52 460.5,171.70 461.0,171.92 461.5,172.17 462.0,172.45 462.5,172.74 463.0,173.03 463.5,173.32 464.0,173.58 464.5,173.82 465.0,174.01 465.5,174.16 466.0,174.26 466.5,174.30 467.0,174.28 467.5,174.21 468.0,174.08 468.5,173.90 469.0,173.68 469.5,173.43 470.0,173.15 470.5,172.86 471.0,172.57 471.5,172.28 472.0,172.02 472.5,171.78 473.0,171.59 473.5,171.44 474.0,171.34 474.5,171.30 475.0,171.32 475.5,171.39 476.0,171.52 476.5,171.70 477.0,171.92 477.5,172.17 478.0,172.45 478.5,172.74 479.0,173.03 479.5,173.32 480.0,173.58 480.5,173.82 481.0,174.01 481.5,174.16 482.0,174.26 482.5,174.30 483.0,174.28 483.5,174.21 484.0,174.08 484.5,173.90 485.0,173.68 485.5,173.43 486.0,173.15 486.5,172.86 487.0,172.57 487.5,172.28 488.0,172.02 488.5,171.78 489.0,171.59 489.5,171.44 490.0,171.34 490.5,171.30 491.0,171.32 491.5,171.39 492.0,171.52 492.5,171.70 493.0,171.92 493.5,172.17 494.0,172.45 494.5,172.74 495.0,173.03 495.5,173.32 496.0,173.58 496.5,173.82 497.0,174.01 497.5,174.16 498.0,174.26 498.5,174.30 499.0,174.28 499.5,174.21 500.0,174.08 500.5,173.90 501.0,173.68 501.5,173.43 502.0,173.15 502.5,172.86 503.0,172.57 503.5,172.28 504.0,172.02 504.5,171.78 505.0,171.59 505.5,171.44 506.0,171.34 506.5,171.30 507.0,171.32 507.5,171.39 508.0,171.52 508.5,171.70 509.0,171.92 509.5,172.17 510.0,172.45 510.5,172.74 511.0,173.03 511.5,173.32 512.0,173.58 512.5,173.82 513.0,174.01 513.5,174.16 514.0,174.26 514.5,174.30 515.0,174.28 515.5,174.21 516.0,174.08 516.5,173.90 517.0,173.68 517.5,173.43 518.0,173.15 518.5,172.86 519.0,172.57 519.5,172.28 520.0,172.02 520.5,171.78 521.0,171.59 521.5,171.44 522.0,171.34 522.5,171.30 523.0,171.32 523.5,171.39 524.0,171.52 524.5,171.70 525.0,171.92 525.5,172.17 526.0,172.45 526.5,172.74 527.0,173.03 527.5,173.32 528.0,173.58 528.5,173.82 529.0,174.01 529.5,174.16 530.0,174.26 530.5,174.30 531.0,174.28 531.5,174.21 532.0,174.08 532.5,173.90 533.0,173.68 533.5,173.43 534.0,173.15 534.5,172.86 535.0,172.57 535.5,172.28 536.0,172.02 536.5,171.78 537.0,171.59 537.5,171.44 538.0,171.34 538.5,171.30 539.0,171.32 539.5,171.39 540.0,171.52 540.5,171.70 541.0,171.92 541.5,172.17 542.0,172.45 542.5,172.74 543.0,173.03 543.5,173.32 544.0,173.58 544.5,173.82 545.0,174.01 545.5,174.16 546.0,174.26 546.5,174.30 547.0,174.28 547.5,174.21 548.0,174.08 548.5,173.90 549.0,173.68 549.5,173.43 550.0,173.15 550.5,172.86 551.0,172.57 551.5,172.28 552.0,172.02 552.5,171.78 553.0,171.59 553.5,171.44 554.0,171.34 554.5,171.30 555.0,171.32 555.5,171.39 556.0,171.52 556.5,171.70 557.0,171.92 557.5,172.17 558.0,172.45 558.5,172.74 559.0,173.03 559.5,173.32 560.0,173.58" stroke="#c60018" stroke-width="4.2" fill="none"/><polyline points="440.0,180.62 440.5,180.38 441.0,180.19 441.5,180.04 442.0,179.94 442.5,179.90 443.0,179.92 443.5,179.99 444.0,180.12 444.5,180.30 445.0,180.52 445.5,180.77 446.0,181.05 446.5,181.34 447.0,181.63 447.5,181.92 448.0,182.18 448.5,182.42 449.0,182.61 449.5,182.76 450.0,182.86 450.5,182.90 451.0,182.88 451.5,182.81 452.0,182.68 452.5,182.50 453.0,182.28 453.5,182.03 454.0,181.75 454.5,181.46 455.0,181.17 455.5,180.88 456.0,180.62 456.5,180.38 457.0,180.19 457.5,180.04 458.0,179.94 458.5,179.90 459.0,179.92 459.5,179.99 460.0,180.12 460.5,180.30 461.0,180.52 461.5,180.77 462.0,181.05 462.5,181.34 463.0,181.63 463.5,181.92 464.0,182.18 464.5,182.42 465.0,182.61 465.5,182.76 466.0,182.86 466.5,182.90 467.0,182.88 467.5,182.81 468.0,182.68 468.5,182.50 469.0,182.28 469.5,182.03 470.0,181.75 470.5,181.46 471.0,181.17 471.5,180.88 472.0,180.62 472.5,180.38 473.0,180.19 473.5,180.04 474.0,179.94 474.5,179.90 475.0,179.92 475.5,179.99 476.0,180.12 476.5,180.30 477.0,180.52 477.5,180.77 478.0,181.05 478.5,181.34 479.0,181.63 479.5,181.92 480.0,182.18 480.5,182.42 481.0,182.61 481.5,182.76 482.0,182.86 482.5,182.90 483.0,182.88 483.5,182.81 484.0,182.68 484.5,182.50 485.0,182.28 485.5,182.03 486.0,181.75 486.5,181.46 487.0,181.17 487.5,180.88 488.0,180.62 488.5,180.38 489.0,180.19 489.5,180.04 490.0,179.94 490.5,179.90 491.0,179.92 491.5,179.99 492.0,180.12 492.5,180.30 493.0,180.52 493.5,180.77 494.0,181.05 494.5,181.34 495.0,181.63 495.5,181.92 496.0,182.18 496.5,182.42 497.0,182.61 497.5,182.76 498.0,182.86 498.5,182.90 499.0,182.88 499.5,182.81 500.0,182.68 500.5,182.50 501.0,182.28 501.5,182.03 502.0,181.75 502.5,181.46 503.0,181.17 503.5,180.88 504.0,180.62 504.5,180.38 505.0,180.19 505.5,180.04 506.0,179.94 506.5,179.90 507.0,179.92 507.5,179.99 508.0,180.12 508.5,180.30 509.0,180.52 509.5,180.77 510.0,181.05 510.5,181.34 511.0,181.63 511.5,181.92 512.0,182.18 512.5,182.42 513.0,182.61 513.5,182.76 514.0,182.86 514.5,182.90 515.0,182.88 515.5,182.81 516.0,182.68 516.5,182.50 517.0,182.28 517.5,182.03 518.0,181.75 518.5,181.46 519.0,181.17 519.5,180.88 520.0,180.62 520.5,180.38 521.0,180.19 521.5,180.04 522.0,179.94 522.5,179.90 523.0,179.92 523.5,179.99 524.0,180.12 524.5,180.30 525.0,180.52 525.5,180.77 526.0,181.05 526.5,181.34 527.0,181.63 527.5,181.92 528.0,182.18 528.5,182.42 529.0,182.61 529.5,182.76 530.0,182.86 530.5,182.90 531.0,182.88 531.5,182.81 532.0,182.68 532.5,182.50 533.0,182.28 533.5,182.03 534.0,181.75 534.5,181.46 535.0,181.17 535.5,180.88 536.0,180.62 536.5,180.38 537.0,180.19 537.5,180.04 538.0,179.94 538.5,179.90 539.0,179.92 539.5,179.99 540.0,180.12 540.5,180.30 541.0,180.52 541.5,180.77 542.0,181.05 542.5,181.34 543.0,181.63 543.5,181.92 544.0,182.18 544.5,182.42 545.0,182.61 545.5,182.76 546.0,182.86 546.5,182.90 547.0,182.88 547.5,182.81 548.0,182.68 548.5,182.50 549.0,182.28 549.5,182.03 550.0,181.75 550.5,181.46 551.0,181.17 551.5,180.88 552.0,180.62 552.5,180.38 553.0,180.19 553.5,180.04 554.0,179.94 554.5,179.90 555.0,179.92 555.5,179.99 556.0,180.12 556.5,180.30 557.0,180.52 557.5,180.77 558.0,181.05 558.5,181.34 559.0,181.63 559.5,181.92 560.0,182.18" stroke="#c60018" stroke-width="4.2" fill="none"/>
<polygon points="460,95 505.5,95 505.5,138.24 505.0,138.39 504.5,138.58 504.0,138.82 503.5,139.08 503.0,139.37 502.5,139.66 502.0,139.95 501.5,140.23 501.0,140.48 500.5,140.70 500.0,140.88 499.5,141.01 499.0,141.08 498.5,141.10 498.0,141.06 497.5,140.96 497.0,140.81 496.5,140.62 496.0,140.38 495.5,140.12 495.0,139.83 494.5,139.54 494.0,139.25 493.5,138.97 493.0,138.72 492.5,138.50 492.0,138.32 491.5,138.19 491.0,138.12 490.5,138.10 490.0,138.14 489.5,138.24 489.0,138.39 488.5,138.58 488.0,138.82 487.5,139.08 487.0,139.37 486.5,139.66 486.0,139.95 485.5,140.23 485.0,140.48 484.5,140.70 484.0,140.88 483.5,141.01 483.0,141.08 482.5,141.10 482.0,141.06 481.5,140.96 481.0,140.81 480.5,140.62 480.0,140.38 479.5,140.12 479.0,139.83 478.5,139.54 478.0,139.25 477.5,138.97 477.0,138.72 476.5,138.50 476.0,138.32 475.5,138.19 475.0,138.12 474.5,138.10 474.0,138.14 473.5,138.24 473.0,138.39 472.5,138.58 472.0,138.82 471.5,139.08 471.0,139.37 470.5,139.66 470.0,139.95 469.5,140.23 469.0,140.48 468.5,140.70 468.0,140.88 467.5,141.01 467.0,141.08 466.5,141.10 466.0,141.06 465.5,140.96" fill="#1f58a8"/>
<g fill="#c9d6ee"><ellipse cx="470.0" cy="100.0" rx="0.6" ry="0.9"/><ellipse cx="473.7" cy="100.0" rx="0.6" ry="0.9"/><ellipse cx="477.4" cy="100.0" rx="0.6" ry="0.9"/><ellipse cx="481.1" cy="100.0" rx="0.6" ry="0.9"/><ellipse cx="484.8" cy="100.0" rx="0.6" ry="0.9"/><ellipse cx="488.5" cy="100.0" rx="0.6" ry="0.9"/><ellipse cx="492.2" cy="100.0" rx="0.6" ry="0.9"/><ellipse cx="495.9" cy="100.0" rx="0.6" ry="0.9"/><ellipse cx="499.6" cy="100.0" rx="0.6" ry="0.9"/><ellipse cx="503.3" cy="100.0" rx="0.6" ry="0.9"/><ellipse cx="471.9" cy="102.7" rx="0.6" ry="0.9"/><ellipse cx="475.6" cy="102.7" rx="0.6" ry="0.9"/><ellipse cx="479.2" cy="102.7" rx="0.6" ry="0.9"/><ellipse cx="483.0" cy="102.7" rx="0.6" ry="0.9"/><ellipse cx="486.7" cy="102.7" rx="0.6" ry="0.9"/><ellipse cx="490.4" cy="102.7" rx="0.6" ry="0.9"/><ellipse cx="494.1" cy="102.7" rx="0.6" ry="0.9"/><ellipse cx="497.8" cy="102.7" rx="0.6" ry="0.9"/><ellipse cx="501.5" cy="102.7" rx="0.6" ry="0.9"/><ellipse cx="470.0" cy="105.4" rx="0.6" ry="0.9"/><ellipse cx="473.7" cy="105.4" rx="0.6" ry="0.9"/><ellipse cx="477.4" cy="105.4" rx="0.6" ry="0.9"/><ellipse cx="481.1" cy="105.4" rx="0.6" ry="0.9"/><ellipse cx="484.8" cy="105.4" rx="0.6" ry="0.9"/><ellipse cx="488.5" cy="105.4" rx="0.6" ry="0.9"/><ellipse cx="492.2" cy="105.4" rx="0.6" ry="0.9"/><ellipse cx="495.9" cy="105.4" rx="0.6" ry="0.9"/><ellipse cx="499.6" cy="105.4" rx="0.6" ry="0.9"/><ellipse cx="503.3" cy="105.4" rx="0.6" ry="0.9"/><ellipse cx="471.9" cy="108.1" rx="0.6" ry="0.9"/><ellipse cx="475.6" cy="108.1" rx="0.6" ry="0.9"/><ellipse cx="479.2" cy="108.1" rx="0.6" ry="0.9"/><ellipse cx="483.0" cy="108.1" rx="0.6" ry="0.9"/><ellipse cx="486.7" cy="108.1" rx="0.6" ry="0.9"/><ellipse cx="490.4" cy="108.1" rx="0.6" ry="0.9"/><ellipse cx="494.1" cy="108.1" rx="0.6" ry="0.9"/><ellipse cx="497.8" cy="108.1" rx="0.6" ry="0.9"/><ellipse cx="501.5" cy="108.1" rx="0.6" ry="0.9"/><ellipse cx="470.0" cy="110.8" rx="0.6" ry="0.9"/><ellipse cx="473.7" cy="110.8" rx="0.6" ry="0.9"/><ellipse cx="477.4" cy="110.8" rx="0.6" ry="0.9"/><ellipse cx="481.1" cy="110.8" rx="0.6" ry="0.9"/><ellipse cx="484.8" cy="110.8" rx="0.6" ry="0.9"/><ellipse cx="488.5" cy="110.8" rx="0.6" ry="0.9"/><ellipse cx="492.2" cy="110.8" rx="0.6" ry="0.9"/><ellipse cx="495.9" cy="110.8" rx="0.6" ry="0.9"/><ellipse cx="499.6" cy="110.8" rx="0.6" ry="0.9"/><ellipse cx="503.3" cy="110.8" rx="0.6" ry="0.9"/><ellipse cx="471.9" cy="113.5" rx="0.6" ry="0.9"/><ellipse cx="475.6" cy="113.5" rx="0.6" ry="0.9"/><ellipse cx="479.2" cy="113.5" rx="0.6" ry="0.9"/><ellipse cx="483.0" cy="113.5" rx="0.6" ry="0.9"/><ellipse cx="486.7" cy="113.5" rx="0.6" ry="0.9"/><ellipse cx="490.4" cy="113.5" rx="0.6" ry="0.9"/><ellipse cx="494.1" cy="113.5" rx="0.6" ry="0.9"/><ellipse cx="497.8" cy="113.5" rx="0.6" ry="0.9"/><ellipse cx="501.5" cy="113.5" rx="0.6" ry="0.9"/><ellipse cx="470.0" cy="116.2" rx="0.6" ry="0.9"/><ellipse cx="473.7" cy="116.2" rx="0.6" ry="0.9"/><ellipse cx="477.4" cy="116.2" rx="0.6" ry="0.9"/><ellipse cx="481.1" cy="116.2" rx="0.6" ry="0.9"/><ellipse cx="484.8" cy="116.2" rx="0.6" ry="0.9"/><ellipse cx="488.5" cy="116.2" rx="0.6" ry="0.9"/><ellipse cx="492.2" cy="116.2" rx="0.6" ry="0.9"/><ellipse cx="495.9" cy="116.2" rx="0.6" ry="0.9"/><ellipse cx="499.6" cy="116.2" rx="0.6" ry="0.9"/><ellipse cx="503.3" cy="116.2" rx="0.6" ry="0.9"/><ellipse cx="471.9" cy="118.9" rx="0.6" ry="0.9"/><ellipse cx="475.6" cy="118.9" rx="0.6" ry="0.9"/><ellipse cx="479.2" cy="118.9" rx="0.6" ry="0.9"/><ellipse cx="483.0" cy="118.9" rx="0.6" ry="0.9"/><ellipse cx="486.7" cy="118.9" rx="0.6" ry="0.9"/><ellipse cx="490.4" cy="118.9" rx="0.6" ry="0.9"/><ellipse cx="494.1" cy="118.9" rx="0.6" ry="0.9"/><ellipse cx="497.8" cy="118.9" rx="0.6" ry="0.9"/><ellipse cx="501.5" cy="118.9" rx="0.6" ry="0.9"/><ellipse cx="470.0" cy="121.6" rx="0.6" ry="0.9"/><ellipse cx="473.7" cy="121.6" rx="0.6" ry="0.9"/><ellipse cx="477.4" cy="121.6" rx="0.6" ry="0.9"/><ellipse cx="481.1" cy="121.6" rx="0.6" ry="0.9"/><ellipse cx="484.8" cy="121.6" rx="0.6" ry="0.9"/><ellipse cx="488.5" cy="121.6" rx="0.6" ry="0.9"/><ellipse cx="492.2" cy="121.6" rx="0.6" ry="0.9"/><ellipse cx="495.9" cy="121.6" rx="0.6" ry="0.9"/><ellipse cx="499.6" cy="121.6" rx="0.6" ry="0.9"/><ellipse cx="503.3" cy="121.6" rx="0.6" ry="0.9"/><ellipse cx="471.9" cy="124.3" rx="0.6" ry="0.9"/><ellipse cx="475.6" cy="124.3" rx="0.6" ry="0.9"/><ellipse cx="479.2" cy="124.3" rx="0.6" ry="0.9"/><ellipse cx="483.0" cy="124.3" rx="0.6" ry="0.9"/><ellipse cx="486.7" cy="124.3" rx="0.6" ry="0.9"/><ellipse cx="490.4" cy="124.3" rx="0.6" ry="0.9"/><ellipse cx="494.1" cy="124.3" rx="0.6" ry="0.9"/><ellipse cx="497.8" cy="124.3" rx="0.6" ry="0.9"/><ellipse cx="501.5" cy="124.3" rx="0.6" ry="0.9"/><ellipse cx="470.0" cy="127.0" rx="0.6" ry="0.9"/><ellipse cx="473.7" cy="127.0" rx="0.6" ry="0.9"/><ellipse cx="477.4" cy="127.0" rx="0.6" ry="0.9"/><ellipse cx="481.1" cy="127.0" rx="0.6" ry="0.9"/><ellipse cx="484.8" cy="127.0" rx="0.6" ry="0.9"/><ellipse cx="488.5" cy="127.0" rx="0.6" ry="0.9"/><ellipse cx="492.2" cy="127.0" rx="0.6" ry="0.9"/><ellipse cx="495.9" cy="127.0" rx="0.6" ry="0.9"/><ellipse cx="499.6" cy="127.0" rx="0.6" ry="0.9"/><ellipse cx="503.3" cy="127.0" rx="0.6" ry="0.9"/><ellipse cx="471.9" cy="129.7" rx="0.6" ry="0.9"/><ellipse cx="475.6" cy="129.7" rx="0.6" ry="0.9"/><ellipse cx="479.2" cy="129.7" rx="0.6" ry="0.9"/><ellipse cx="483.0" cy="129.7" rx="0.6" ry="0.9"/><ellipse cx="486.7" cy="129.7" rx="0.6" ry="0.9"/><ellipse cx="490.4" cy="129.7" rx="0.6" ry="0.9"/><ellipse cx="494.1" cy="129.7" rx="0.6" ry="0.9"/><ellipse cx="497.8" cy="129.7" rx="0.6" ry="0.9"/><ellipse cx="501.5" cy="129.7" rx="0.6" ry="0.9"/><ellipse cx="470.0" cy="132.4" rx="0.6" ry="0.9"/><ellipse cx="473.7" cy="132.4" rx="0.6" ry="0.9"/><ellipse cx="477.4" cy="132.4" rx="0.6" ry="0.9"/><ellipse cx="481.1" cy="132.4" rx="0.6" ry="0.9"/><ellipse cx="484.8" cy="132.4" rx="0.6" ry="0.9"/><ellipse cx="488.5" cy="132.4" rx="0.6" ry="0.9"/><ellipse cx="492.2" cy="132.4" rx="0.6" ry="0.9"/><ellipse cx="495.9" cy="132.4" rx="0.6" ry="0.9"/><ellipse cx="499.6" cy="132.4" rx="0.6" ry="0.9"/><ellipse cx="503.3" cy="132.4" rx="0.6" ry="0.9"/><ellipse cx="471.9" cy="135.1" rx="0.6" ry="0.9"/><ellipse cx="475.6" cy="135.1" rx="0.6" ry="0.9"/><ellipse cx="479.2" cy="135.1" rx="0.6" ry="0.9"/><ellipse cx="483.0" cy="135.1" rx="0.6" ry="0.9"/><ellipse cx="486.7" cy="135.1" rx="0.6" ry="0.9"/><ellipse cx="490.4" cy="135.1" rx="0.6" ry="0.9"/><ellipse cx="494.1" cy="135.1" rx="0.6" ry="0.9"/><ellipse cx="497.8" cy="135.1" rx="0.6" ry="0.9"/><ellipse cx="501.5" cy="135.1" rx="0.6" ry="0.9"/></g>
</g>
<text x="502.87" y="82.8" font-size="11.2" font-style="normal" fill="#fff" stroke="#fff" stroke-width="0.1" textLength="27.25" lengthAdjust="spacingAndGlyphs" >China</text><text x="505.83" y="96.7" font-size="11.2" font-style="normal" fill="#fff" stroke="#fff" stroke-width="0.1" textLength="21.77" lengthAdjust="spacingAndGlyphs" >27%</text><text x="415.82" y="123" font-size="11.2" font-style="normal" fill="#fff" stroke="#fff" stroke-width="0.1" textLength="21.87" lengthAdjust="spacingAndGlyphs" >56%</text><text x="374.78" y="147.9" font-size="11.2" font-style="normal" fill="#000" stroke="#000" stroke-width="0.1" textLength="23.43" lengthAdjust="spacingAndGlyphs" >Rest</text><text x="375.6" y="162.9" font-size="11.2" font-style="normal" fill="#000" stroke="#000" stroke-width="0.1" textLength="30.2" lengthAdjust="spacingAndGlyphs" >of the</text><text x="375.6" y="178.1" font-size="11.2" font-style="normal" fill="#000" stroke="#000" stroke-width="0.1" textLength="30.44" lengthAdjust="spacingAndGlyphs" >world</text><text x="548.28" y="139.1" font-size="11.2" font-style="normal" fill="#000" stroke="#000" stroke-width="0.1" textLength="33.07" lengthAdjust="spacingAndGlyphs" >United</text><text x="548.99" y="153" font-size="11.2" font-style="normal" fill="#000" stroke="#000" stroke-width="0.1" textLength="31.93" lengthAdjust="spacingAndGlyphs" >States</text><text x="554.83" y="167.1" font-size="11.2" font-style="normal" fill="#000" stroke="#000" stroke-width="0.1" textLength="21.66" lengthAdjust="spacingAndGlyphs" >17%</text>
<text x="378.0" y="203.9" font-size="12.2" font-style="normal" fill="#f79646" stroke="#f79646" stroke-width="0.1" textLength="36.3" lengthAdjust="spacingAndGlyphs" >World</text><text x="418.03" y="203.9" font-size="12.2" font-style="normal" fill="#f79646" stroke="#f79646" stroke-width="0.1" textLength="17.74" lengthAdjust="spacingAndGlyphs" >CO</text><text x="436.2" y="206.6" font-size="8.5" font-style="normal" fill="#f79646" stroke="#f79646" stroke-width="0.1" textLength="5.44" lengthAdjust="spacingAndGlyphs" >2</text><text x="445.2" y="203.9" font-size="12.2" font-style="normal" fill="#f79646" stroke="#f79646" stroke-width="0.1" textLength="125.48" lengthAdjust="spacingAndGlyphs" >emissions by country</text>
<rect x="0" y="220.3" width="603" height="7" fill="#999"/>
<text transform="translate(222.6,250.9) scale(1.2,1)" x="0" y="0" font-size="10.3" fill="#747474" stroke="#747474" stroke-width="0.35" textLength="149.8" lengthAdjust="spacing">HOW BIG IS HARMFUL GAS?</text>
<rect x="38" y="259.9" width="534" height="2" fill="#c9504d"/>
<text x="53.4" y="320" font-size="47.3" fill="#4bacc6" textLength="26.6" lengthAdjust="spacingAndGlyphs">T</text>
<path d="M442.08,309.30A105,105 0 0 1 479.08,315.70L461.04,365.00A52.5,52.5 0 0 0 442.54,361.80Z" fill="#1a4a6e"/><path d="M478.22,315.38A105,105 0 0 1 527.08,351.40L485.04,382.85A52.5,52.5 0 0 0 460.61,364.84Z" fill="#0085c9"/><path d="M526.52,350.67A105,105 0 0 1 546.50,431.99L494.75,423.15A52.5,52.5 0 0 0 484.76,382.49Z" fill="#d16460"/><path d="M546.65,431.09A105,105 0 0 1 403.67,511.65L423.33,462.98A52.5,52.5 0 0 0 494.82,422.69Z" fill="#00bef0"/><path d="M404.52,511.99A105,105 0 0 1 386.58,325.74L414.79,370.02A52.5,52.5 0 0 0 423.76,463.15Z" fill="#a0d4e2"/><path d="M385.81,326.24A105,105 0 0 1 443.00,309.30L443.00,361.80A52.5,52.5 0 0 0 414.41,370.27Z" fill="#e69552"/>
<text x="437.13" y="294.8" font-size="9.4" font-style="normal" fill="#000" stroke="#000" stroke-width="0.1" textLength="49.79" lengthAdjust="spacingAndGlyphs" >Residential</text><text x="448.5" y="307.9" font-size="9.4" font-style="normal" fill="#000" stroke="#000" stroke-width="0.1" textLength="26.61" lengthAdjust="spacingAndGlyphs" >sector</text><text x="455.8" y="321" font-size="10.2" font-style="normal" fill="#000" stroke="#000" stroke-width="0.1" textLength="12.28" lengthAdjust="spacingAndGlyphs" >6%</text><text x="504.9" y="314.8" font-size="9.4" font-style="normal" fill="#000" stroke="#000" stroke-width="0.1" textLength="52.22" lengthAdjust="spacingAndGlyphs" >Commercial</text><text x="515.92" y="327.9" font-size="9.4" font-style="normal" fill="#000" stroke="#000" stroke-width="0.1" textLength="29.4" lengthAdjust="spacingAndGlyphs" >Sector</text><text x="524.7" y="340.8" font-size="9.4" font-style="normal" fill="#000" stroke="#000" stroke-width="0.1" textLength="13.04" lengthAdjust="spacingAndGlyphs" >9%</text><text x="545.79" y="386.9" font-size="9.4" font-style="normal" fill="#000" stroke="#000" stroke-width="0.1" textLength="42.37" lengthAdjust="spacingAndGlyphs" >Industrial</text><text x="552.43" y="399.7" font-size="9.4" font-style="normal" fill="#000" stroke="#000" stroke-width="0.1" textLength="28.88" lengthAdjust="spacingAndGlyphs" >Sector</text><text x="557.62" y="412.7" font-size="9.4" font-style="normal" fill="#000" stroke="#000" stroke-width="0.1" textLength="18.45" lengthAdjust="spacingAndGlyphs" >13%</text><text x="347.54" y="406.9" font-size="9.5" font-style="normal" fill="#000" stroke="#000" stroke-width="0.1" textLength="33.13" lengthAdjust="spacingAndGlyphs" >Electric</text><text x="349.73" y="419.9" font-size="9.5" font-style="normal" fill="#000" stroke="#000" stroke-width="0.1" textLength="28.7" lengthAdjust="spacingAndGlyphs" >Power</text><text x="349.1" y="432.8" font-size="9.5" font-style="normal" fill="#000" stroke="#000" stroke-width="0.1" textLength="30.22" lengthAdjust="spacingAndGlyphs" >Sector</text><text x="354.07" y="445.9" font-size="9.5" font-style="normal" fill="#000" stroke="#000" stroke-width="0.1" textLength="19.65" lengthAdjust="spacingAndGlyphs" >35%</text><text x="458.2" y="471.8" font-size="8.3" font-style="normal" fill="#000" stroke="#000" stroke-width="0.1" textLength="53.2" lengthAdjust="spacingAndGlyphs" >Transportation</text><text x="471.9" y="481.9" font-size="8.3" font-style="normal" fill="#000" stroke="#000" stroke-width="0.1" textLength="23.88" lengthAdjust="spacingAndGlyphs" >Sector</text><text x="475.7" y="494.8" font-size="10.6" font-style="normal" fill="#000" stroke="#000" stroke-width="0.1" textLength="17.77" lengthAdjust="spacingAndGlyphs" >28%</text><text x="389.1" y="331.9" font-size="9.8" font-style="normal" fill="#000" stroke="#000" stroke-width="0.1" textLength="48.94" lengthAdjust="spacingAndGlyphs" >Others (9%</text>
<text x="359.35" y="540.6" font-size="11.4" font-style="italic" fill="#f79646" stroke="#f79646" stroke-width="0.1" textLength="40.23" lengthAdjust="spacingAndGlyphs" >U.S. CO</text><text x="397.9" y="543.9" font-size="8.8" font-style="italic" fill="#f79646" stroke="#f79646" stroke-width="0.1" textLength="5.2" lengthAdjust="spacingAndGlyphs" >2</text><text x="404.9" y="540.6" font-size="11.4" font-style="italic" fill="#f79646" stroke="#f79646" stroke-width="0.1" textLength="102.1" lengthAdjust="spacingAndGlyphs" >emissions by source</text>
<g font-size="10" fill="#000" stroke="#000" stroke-width="0.1"><text x="68.2" y="573.0" text-anchor="end" textLength="26.7" lengthAdjust="spacingAndGlyphs">6,300</text><text x="68.2" y="596.4" text-anchor="end" textLength="26.7" lengthAdjust="spacingAndGlyphs">6,100</text><text x="68.2" y="619.8" text-anchor="end" textLength="26.7" lengthAdjust="spacingAndGlyphs">5,900</text><text x="68.2" y="643.3" text-anchor="end" textLength="26.7" lengthAdjust="spacingAndGlyphs">5,700</text><text x="68.2" y="666.7" text-anchor="end" textLength="26.7" lengthAdjust="spacingAndGlyphs">5,500</text><text x="68.2" y="690.1" text-anchor="end" textLength="26.7" lengthAdjust="spacingAndGlyphs">5,300</text><text x="68.2" y="713.5" text-anchor="end" textLength="26.7" lengthAdjust="spacingAndGlyphs">5,100</text><text x="68.2" y="736.9" text-anchor="end" textLength="26.7" lengthAdjust="spacingAndGlyphs">4,900</text><text x="68.2" y="760.4" text-anchor="end" textLength="26.7" lengthAdjust="spacingAndGlyphs">4,700</text><text x="68.2" y="783.8" text-anchor="end" textLength="26.7" lengthAdjust="spacingAndGlyphs">4,500</text></g>
<text transform="translate(28.3,653.9) rotate(-90)" font-size="12" fill="#000" stroke="#000" stroke-width="0.08" text-anchor="middle" textLength="106.5" lengthAdjust="spacingAndGlyphs">(million metric tons)</text>
<polyline points="90.6,715.9 113.5,719.9 136.2,708.7 159.1,697.5 181.5,689.3 203.9,683.1 227.1,661.1 250.3,652.2 272.7,647.2 295,640.6 317.9,619.9 340.4,631.7 363.2,625.9 385.9,620.3 408.8,606.5 431.3,603.7 454.3,612 476.9,600.7 500,621.3 522,668.7 545,646.2 567.3,663.1" fill="none" stroke="#ac4341" stroke-width="3.3" stroke-linejoin="round" stroke-linecap="round"/>
<g font-size="8.6" fill="#111" stroke="#111" stroke-width="0.3"><text x="91.0" y="795" text-anchor="middle" textLength="19.8" lengthAdjust="spacingAndGlyphs">1990</text><text x="113.7" y="795" text-anchor="middle" textLength="19.8" lengthAdjust="spacingAndGlyphs">1991</text><text x="136.4" y="795" text-anchor="middle" textLength="19.8" lengthAdjust="spacingAndGlyphs">1992</text><text x="159.1" y="795" text-anchor="middle" textLength="19.8" lengthAdjust="spacingAndGlyphs">1993</text><text x="181.8" y="795" text-anchor="middle" textLength="19.8" lengthAdjust="spacingAndGlyphs">1994</text><text x="204.4" y="795" text-anchor="middle" textLength="19.8" lengthAdjust="spacingAndGlyphs">1995</text><text x="227.1" y="795" text-anchor="middle" textLength="19.8" lengthAdjust="spacingAndGlyphs">1996</text><text x="249.8" y="795" text-anchor="middle" textLength="19.8" lengthAdjust="spacingAndGlyphs">1997</text><text x="272.5" y="795" text-anchor="middle" textLength="19.8" lengthAdjust="spacingAndGlyphs">1998</text><text x="295.2" y="795" text-anchor="middle" textLength="19.8" lengthAdjust="spacingAndGlyphs">1999</text><text x="317.9" y="795" text-anchor="middle" textLength="19.8" lengthAdjust="spacingAndGlyphs">2000</text><text x="340.6" y="795" text-anchor="middle" textLength="19.8" lengthAdjust="spacingAndGlyphs">2001</text><text x="363.3" y="795" text-anchor="middle" textLength="19.8" lengthAdjust="spacingAndGlyphs">2002</text><text x="386.0" y="795" text-anchor="middle" textLength="19.8" lengthAdjust="spacingAndGlyphs">2003</text><text x="408.7" y="795" text-anchor="middle" textLength="19.8" lengthAdjust="spacingAndGlyphs">2004</text><text x="431.4" y="795" text-anchor="middle" textLength="19.8" lengthAdjust="spacingAndGlyphs">2005</text><text x="454.0" y="795" text-anchor="middle" textLength="19.8" lengthAdjust="spacingAndGlyphs">2006</text><text x="476.7" y="795" text-anchor="middle" textLength="19.8" lengthAdjust="spacingAndGlyphs">2007</text><text x="499.4" y="795" text-anchor="middle" textLength="19.8" lengthAdjust="spacingAndGlyphs">2008</text><text x="522.1" y="795" text-anchor="middle" textLength="19.8" lengthAdjust="spacingAndGlyphs">2009</text><text x="544.8" y="795" text-anchor="middle" textLength="19.8" lengthAdjust="spacingAndGlyphs">2010</text><text x="567.5" y="795" text-anchor="middle" textLength="19.8" lengthAdjust="spacingAndGlyphs">2011</text></g>
<text x="238.37" y="822.9" font-size="11.4" font-style="italic" fill="#f79646" stroke="#f79646" stroke-width="0.1" textLength="15.92" lengthAdjust="spacingAndGlyphs" >CO</text><text x="253.9" y="826.9" font-size="8.8" font-style="italic" fill="#f79646" stroke="#f79646" stroke-width="0.1" textLength="4.91" lengthAdjust="spacingAndGlyphs" >2</text><text x="261.5" y="822.9" font-size="11.4" font-style="italic" fill="#f79646" stroke="#f79646" stroke-width="0.1" textLength="133.15" lengthAdjust="spacingAndGlyphs" >emission trend in the U.S.</text>
</svg>
<div class="ln" style="left:55px;width:298px;top:62.50px;font-size:13.8px;color:#231f20;text-align-last:justify">In 2011, the United States emitted 5.49 billion</div><div class="ln" style="left:55px;width:298px;top:80.30px;font-size:13.8px;color:#231f20;text-align-last:justify">metric tons of CO<sub>2</sub>.&nbsp; It ranked second in the world</div><div class="ln" style="left:55px;width:298px;top:98.10px;font-size:13.8px;color:#231f20;text-align-last:justify">after China. China and our nation are the world’s</div><div class="ln" style="left:55px;width:298px;top:115.90px;font-size:13.8px;color:#231f20;text-align-last:justify">two largest CO<sub>2</sub> emitting countries, and both are</div><div class="ln" style="left:55px;width:298px;top:133.70px;font-size:13.8px;color:#231f20;text-align-last:justify">responsible for 44% of the total CO<sub>2</sub> emissions in</div><div class="ln" style="left:55px;width:298px;top:151.50px;font-size:13.8px;color:#231f20;text-align-last:left">the world.</div>
<div class="ln" style="left:79.5px;width:226.5px;top:314.5px;font-size:13.8px;color:#3b3b3b;text-align-last:justify">he amount of CO<sub>2</sub> emissions has</div>
<div class="ln" style="left:53px;width:253px;top:332.50px;font-size:13.8px;color:#3b3b3b;text-align-last:justify">increased in our country over the last 30</div><div class="ln" style="left:53px;width:253px;top:350.39px;font-size:13.8px;color:#3b3b3b;text-align-last:justify">years due to the increase of fossil fuel</div><div class="ln" style="left:53px;width:253px;top:368.28px;font-size:13.8px;color:#3b3b3b;text-align-last:justify">combustion to meet our energy demands</div><div class="ln" style="left:53px;width:253px;top:386.17px;font-size:13.8px;color:#3b3b3b;text-align-last:justify">(see the line graph below). We saw a</div><div class="ln" style="left:53px;width:253px;top:404.06px;font-size:13.8px;color:#3b3b3b;text-align-last:justify">drop in 2009, attributable to the fact that</div><div class="ln" style="left:53px;width:253px;top:421.95px;font-size:13.8px;color:#3b3b3b;text-align-last:justify">energy consumption declined due to the</div><div class="ln" style="left:53px;width:253px;top:439.84px;font-size:13.8px;color:#3b3b3b;text-align-last:justify">economic recession that started in 2008.</div><div class="ln" style="left:53px;width:253px;top:457.73px;font-size:13.8px;color:#3b3b3b;text-align-last:justify">Transportation and electric power are the</div><div class="ln" style="left:53px;width:253px;top:475.62px;font-size:13.8px;color:#3b3b3b;text-align-last:justify">two major sources of CO<sub>2</sub> emissions in</div><div class="ln" style="left:53px;width:253px;top:493.51px;font-size:13.8px;color:#3b3b3b;text-align-last:left">our nation (see the circle graph).</div>
</body></html>
